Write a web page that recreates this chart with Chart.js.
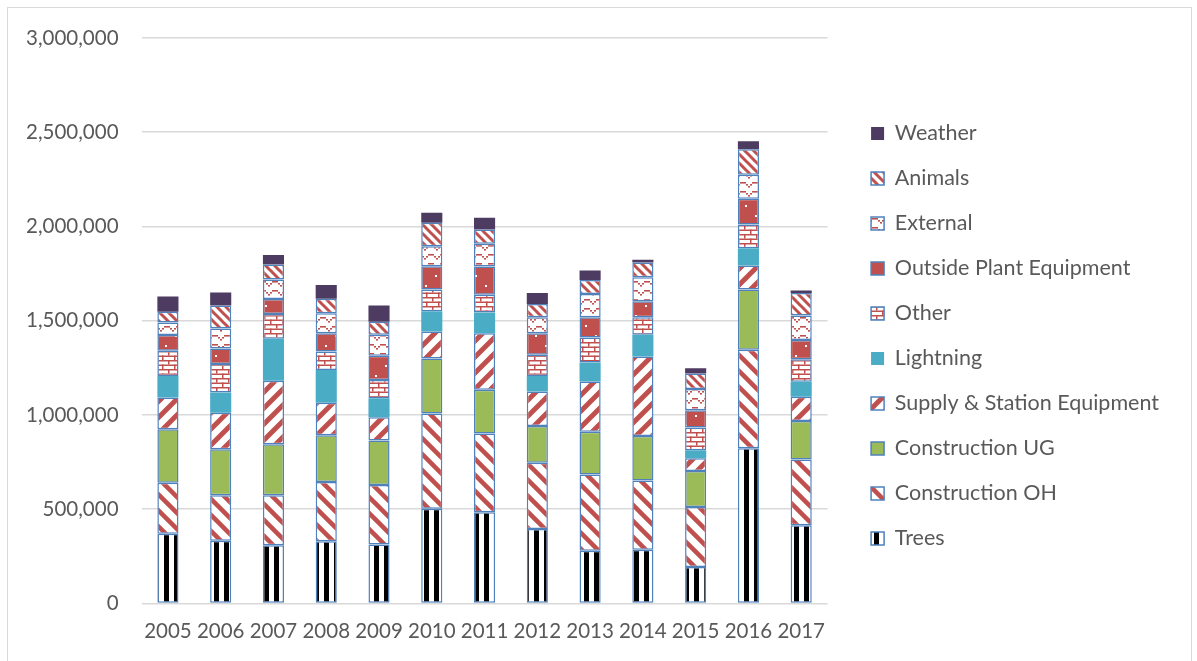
<!DOCTYPE html>
<html>
<head>
<meta charset="utf-8">
<script src="https://cdn.jsdelivr.net/npm/chart.js@4/dist/chart.umd.min.js"></script>
<style>
  html, body { margin: 0; padding: 0; background: #fff; }
  #wrap { position: relative; width: 1197px; height: 661px; overflow: hidden; }
  #frame { position: absolute; left: 7px; top: 7px; width: 1183px; height: 700px; border: 1px solid #d9d9d9; }
  canvas { position: absolute; left: 0; top: 0; }
</style>
</head>
<body>
<div id="wrap">
  <div id="frame"></div>
  <canvas id="chart-outages" width="1197" height="661"></canvas>
</div>
<script>
const years = ['2005', '2006', '2007', '2008', '2009', '2010', '2011', '2012', '2013', '2014', '2015', '2016', '2017']

const trees = [370000, 333000, 309000, 330000, 312000, 502000, 484000, 395000, 280000, 285000, 193000, 823000, 415000]
const constructionOH = [270000, 241000, 265000, 314000, 316000, 505000, 417000, 351000, 404000, 367000, 319000, 523000, 349000]
const constructionUG = [284000, 244000, 270000, 248000, 237000, 293000, 232000, 195000, 227000, 236000, 190000, 319000, 204000]
const supplyStation = [168000, 194000, 337000, 173000, 123000, 143000, 301000, 183000, 266000, 422000, 68000, 128000, 128000]
const lightning = [115000, 107000, 223000, 173000, 101000, 107000, 110000, 83000, 101000, 116000, 42000, 92000, 80000]
const other = [133000, 151000, 132000, 99000, 96000, 115000, 94000, 112000, 133000, 92000, 121000, 126000, 120000]
const outsidePlant = [84000, 83000, 79000, 97000, 129000, 124000, 149000, 115000, 107000, 85000, 92000, 136000, 101000]
const external = [67000, 106000, 103000, 105000, 112000, 106000, 121000, 84000, 124000, 127000, 112000, 128000, 130000]
const animals = [57000, 121000, 80000, 78000, 69000, 125000, 76000, 71000, 74000, 79000, 83000, 135000, 120000]
const weather = [80000, 69000, 51000, 73000, 85000, 53000, 62000, 58000, 50000, 14000, 28000, 42000, 13000]

const RED = '#c0504d'
const EDGE = '#4f81bd'
const TEXT = '#595959'
const FONT = 'Lato, "Open Sans", sans-serif'

// small helper to build a repeating canvas pattern
function makePattern(w, h, draw) {
  const c = document.createElement('canvas')
  c.width = w
  c.height = h
  const g = c.getContext('2d')
  draw(g, w, h)
  return document.getElementById('chart-outages').getContext('2d').createPattern(c, 'repeat')
}

function diag(g, s, width, down) {
  g.fillStyle = '#fff'
  g.fillRect(0, 0, s, s)
  g.strokeStyle = RED
  g.lineWidth = width
  g.beginPath()
  for (let k = -1; k <= 1; k++) {
    if (down) {
      g.moveTo(k * s - 2, -2)
      g.lineTo(k * s + s + 2, s + 2)
    } else {
      g.moveTo(k * s - 2, s + 2)
      g.lineTo(k * s + s + 2, -2)
    }
  }
  g.stroke()
}

const patTrees = makePattern(10, 10, (g) => {
  g.fillStyle = '#fff'
  g.fillRect(0, 0, 10, 10)
  g.fillStyle = '#000'
  g.fillRect(4, 0, 5, 10)
})
const patOH = makePattern(16, 16, (g) => diag(g, 16, 4.5, true))
const patSupply = makePattern(16, 16, (g) => diag(g, 16, 5, false))
const patAnimals = makePattern(9, 9, (g) => diag(g, 9, 3, true))
const patOther = makePattern(12, 9, (g) => {
  g.fillStyle = '#fff'
  g.fillRect(0, 0, 12, 9)
  g.fillStyle = RED
  g.fillRect(0, 0, 12, 1.5)
  g.fillRect(0, 4.5, 12, 1.5)
  g.fillRect(0, 0, 1.5, 4.5)
  g.fillRect(6, 4.5, 1.5, 4.5)
})
const patPlant = makePattern(20, 20, (g) => {
  g.fillStyle = RED
  g.fillRect(0, 0, 20, 20)
  g.fillStyle = '#fff'
  g.fillRect(5, 5, 2, 2)
  g.fillRect(15, 15, 2, 2)
})
const patExternal = makePattern(12, 9, (g) => {
  g.fillStyle = '#fff'
  g.fillRect(0, 0, 12, 9)
  g.fillStyle = RED
  const pts = [[0, 2], [2, 4], [4, 6], [6, 4], [8, 2], [10, 2]]
  pts.forEach(p => g.fillRect(p[0], p[1], 2, 1.6))
})

Chart.defaults.font.family = FONT
Chart.defaults.color = TEXT

const datasets = [
  { label: 'Trees', data: trees, backgroundColor: patTrees, borderColor: EDGE, borderWidth: 1.5 },
  { label: 'Construction OH', data: constructionOH, backgroundColor: patOH, borderColor: EDGE, borderWidth: 1.5 },
  { label: 'Construction UG', data: constructionUG, backgroundColor: '#9bbb59', borderColor: EDGE, borderWidth: 1.5 },
  { label: 'Supply & Station Equipment', data: supplyStation, backgroundColor: patSupply, borderColor: EDGE, borderWidth: 1.5 },
  { label: 'Lightning', data: lightning, backgroundColor: '#4bacc6', borderColor: '#4bacc6', borderWidth: 0 },
  { label: 'Other', data: other, backgroundColor: patOther, borderColor: EDGE, borderWidth: 1.5 },
  { label: 'Outside Plant Equipment', data: outsidePlant, backgroundColor: patPlant, borderColor: EDGE, borderWidth: 1.5 },
  { label: 'External', data: external, backgroundColor: patExternal, borderColor: EDGE, borderWidth: 1.5 },
  { label: 'Animals', data: animals, backgroundColor: patAnimals, borderColor: EDGE, borderWidth: 1.5 },
  { label: 'Weather', data: weather, backgroundColor: '#4d3b62', borderColor: '#4d3b62', borderWidth: 0 }
].map(d => ({ ...d, borderSkipped: false, barPercentage: 0.8, categoryPercentage: 0.5 }))

// leave a wider gap between the plot and the legend, and lift the legend a bit
const LEGEND_GAP = 20
const LEGEND_LIFT = 9
const legendNudge = {
  id: 'legendNudge',
  beforeUpdate(chart) {
    const lg = chart.legend
    if (lg && !lg._nudged) {
      const fit = lg.fit
      lg.fit = function () {
        fit.call(this)
        if (this.columnSizes && this.columnSizes.length) {
          this.width = this.columnSizes[0].width + this.options.labels.padding + 10 + LEGEND_GAP
        }
      }
      lg._nudged = true
    }
  },
  afterLayout(chart) {
    const lg = chart.legend
    lg.left += LEGEND_GAP
    lg.right += LEGEND_GAP
    lg.top -= LEGEND_LIFT
    lg.bottom -= LEGEND_LIFT
  }
}

new Chart(document.getElementById('chart-outages'), {
  type: 'bar',
  data: { labels: years, datasets },
  options: {
    responsive: false,
    animation: false,
    layout: { padding: { left: 3, top: 38, right: 28, bottom: 9 } },
    scales: {
      x: {
        stacked: true,
        grid: { display: false },
        border: { display: false },
        ticks: { font: { size: 20.5 }, color: TEXT, padding: 8, maxRotation: 0 }
      },
      y: {
        stacked: true,
        min: 0,
        max: 3000000,
        border: { display: false },
        grid: { color: '#d9d9d9', lineWidth: 1.5, drawTicks: false },
        ticks: {
          stepSize: 500000,
          font: { size: 20.5 },
          color: TEXT,
          padding: 23,
          callback: v => v.toLocaleString('en-US')
        }
      }
    },
    plugins: {
      tooltip: { enabled: false },
      legend: {
        position: 'right',
        reverse: true,
        labels: {
          boxWidth: 13,
          boxHeight: 13,
          padding: 23.5,
          color: TEXT,
          font: { size: 21.5 }
        }
      }
    }
  },
  plugins: [legendNudge]
})
</script>
</body>
</html>
